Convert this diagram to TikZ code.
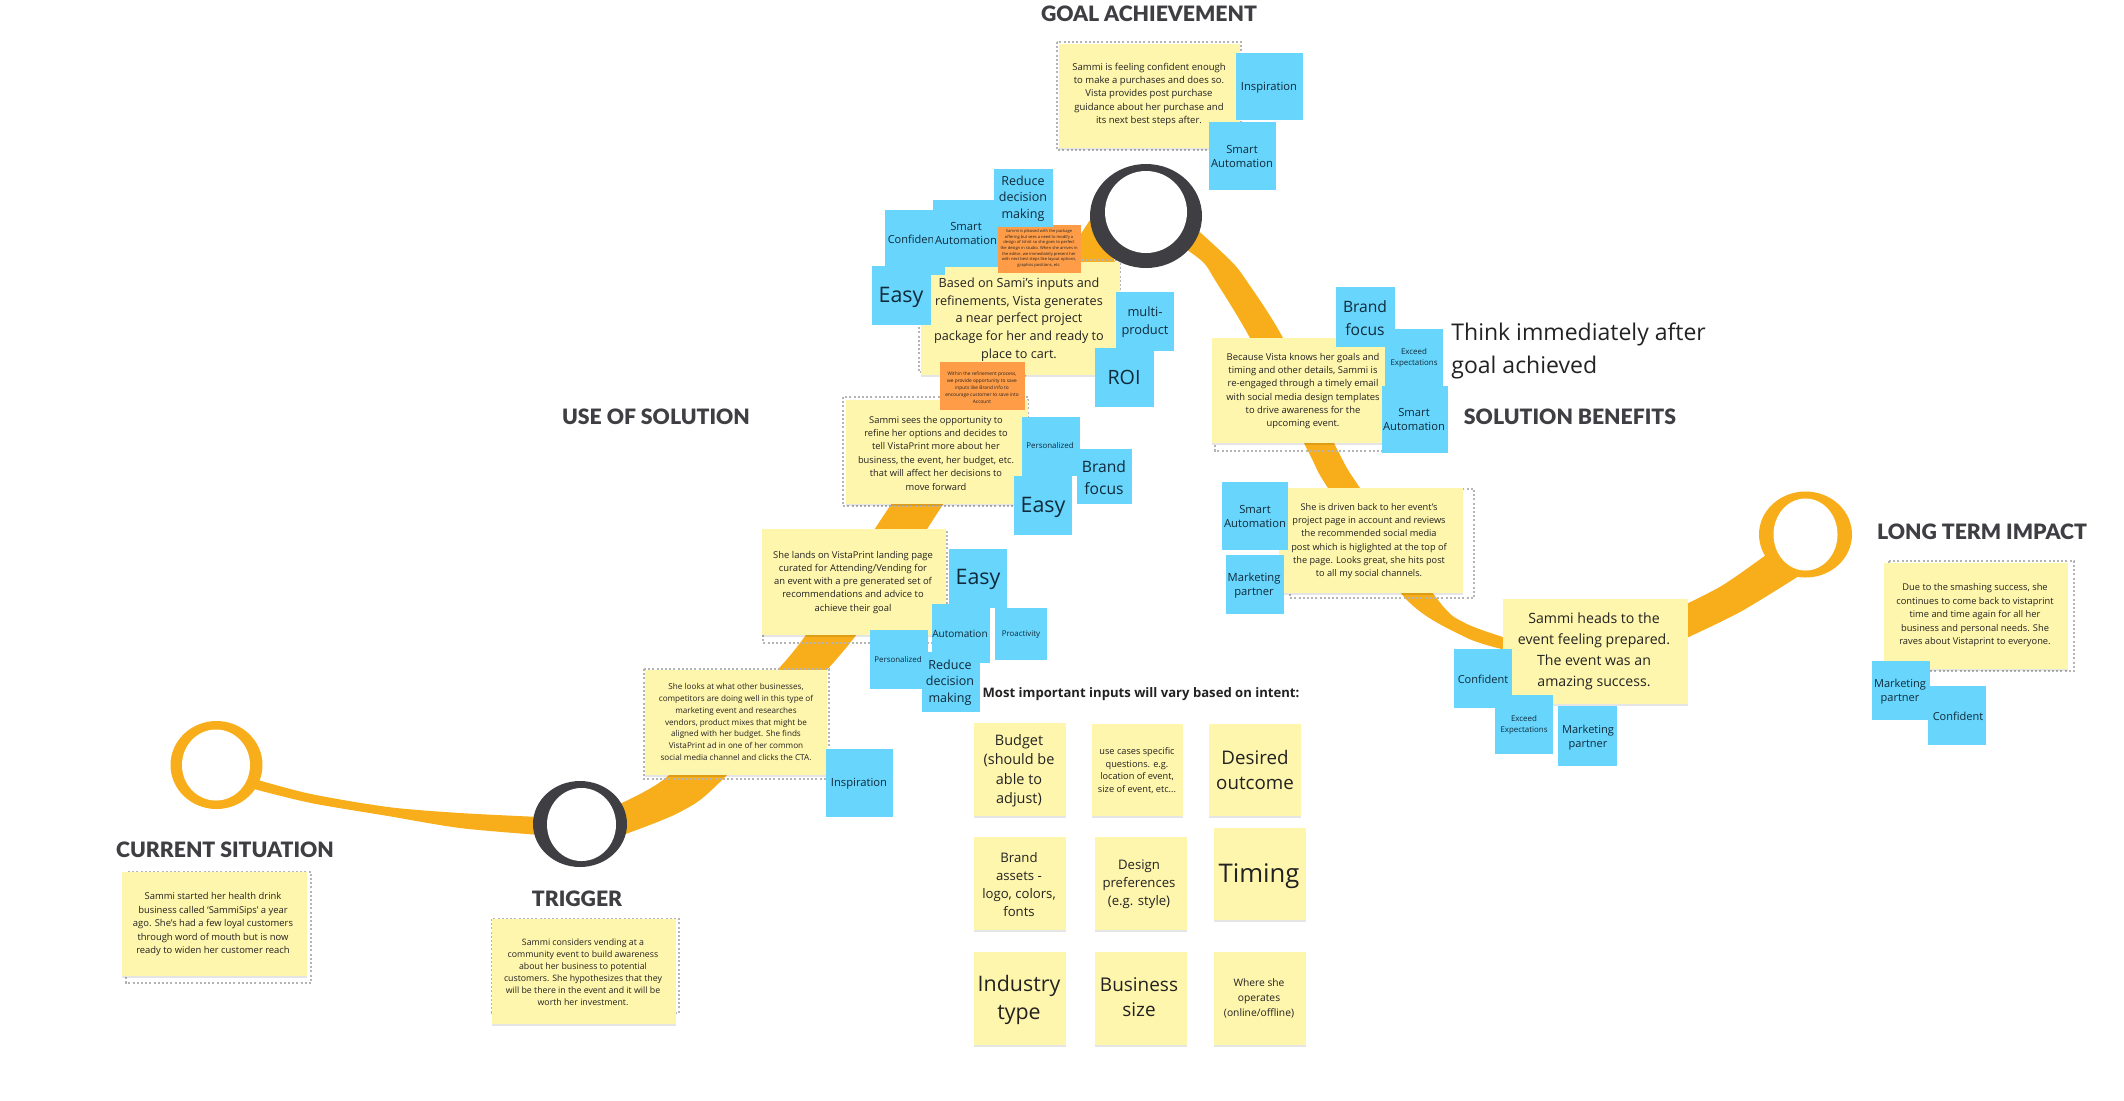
\documentclass[tikz,border=0pt]{standalone}
\usepackage{fontspec}
\setmainfont{Open Sans}
\newfontfamily\headfont[BoldFont={Lato Black}]{Lato}
\usetikzlibrary{shadows}
\definecolor{stblue}{HTML}{68D5FC}
\definecolor{styellow}{HTML}{FFF6AD}
\definecolor{storange}{HTML}{FF9C47}
\definecolor{swoosh}{HTML}{F8AE1A}
\definecolor{ringdark}{HTML}{3F3E42}
\definecolor{framegrey}{HTML}{B4B4B4}
\definecolor{inktext}{HTML}{222222}
\definecolor{inkblue}{HTML}{0F2A3A}
\newcommand{\fs}[2]{\pgfmathsetmacro\fa{#1/2*1.07}\pgfmathsetmacro\fb{#2/2}\edef\curfont{\noexpand\fontsize{\fa}{\fb}\noexpand\selectfont}}
\newcommand{\sticky}[9]{%
  \pgfmathsetmacro\bw{(#5-#3)*0.5}\pgfmathsetmacro\bh{(#6-#4)*0.5}%
  \pgfmathsetmacro\cx{(#3+#5)/2}\pgfmathsetmacro\cy{(#4+#6)/2}%
  \pgfmathsetmacro\ty{#8+0.25*\fa}%
  \node[#2box,minimum width=\bw pt,minimum height=\bh pt] (#1) at (\cx,\cy) {};
  \node[#2text,font=\curfont] (#1-t) at (#7,\ty) {#9};
}
\tikzset{
  yelbox/.style={fill=styellow,inner sep=0pt,drop shadow={shadow xshift=0pt,shadow yshift=-0.8pt,opacity=.1,fill=black}},
  blubox/.style={fill=stblue,inner sep=0pt},
  orabox/.style={fill=storange,inner sep=0pt},
  yeltext/.style={align=center,inner sep=0pt,text=inktext},
  blutext/.style={align=center,inner sep=0pt,text=inkblue},
  oratext/.style={align=center,inner sep=0pt,text=inktext},
  headline/.style={inner sep=0pt,text=ringdark,font=\headfont\bfseries\fontsize{10.6}{13}\selectfont},
  dotframe/.style={draw=framegrey,line width=1pt,dash pattern=on 1pt off 1.1pt},
  ringgold/.style={fill=swoosh},
  ringgrey/.style={fill=ringdark},
  ringhole/.style={fill=white},
}
\begin{document}
\begin{tikzpicture}[x=0.5pt,y=-0.5pt]
\useasboundingbox (0,0) rectangle (2124,1100);
% swooshes
\fill[swoosh] plot[smooth] coordinates {(258,780) (311,794) (388,807) (460,813) (540,817)}
  -- plot[smooth] coordinates {(540,835) (460,828) (388,816) (311,803) (254,789)} -- cycle;
\fill[swoosh] plot[smooth] coordinates {(615,806) (663,780) (730,718) (800,643) (890,506) (1000,350) (1070,250) (1095,212)}
  -- plot[smooth] coordinates {(1115,262) (1050,340) (942,506) (850,643) (722,780) (680,812) (620,836)} -- cycle;
\fill[swoosh] plot[smooth,tension=0.5] coordinates {(1192,225) (1230,260) (1246,280) (1283,338) (1338,451) (1360,488) (1438,600) (1465,623) (1506,638)}
  -- plot[smooth,tension=0.5] coordinates {(1506,650) (1465,637) (1405,598) (1328,488) (1308,451) (1250,338) (1215,280) (1203,262) (1180,245)} -- cycle;
\fill[swoosh] plot[smooth] coordinates {(1680,607) (1723,585) (1770,552)}
  -- plot[smooth] coordinates {(1802,574) (1740,612) (1680,641)} -- cycle;
% rings
\fill[ringgold] (216.5,765) ellipse [x radius=46,y radius=44];
\fill[ringhole] (216,765) ellipse [x radius=34,y radius=35.5];
\fill[ringgrey] (580,824) ellipse [x radius=47,y radius=43];
\fill[ringhole] (581.5,824.5) ellipse [x radius=34.5,y radius=36.5];
\fill[ringgold] (1805.5,534.5) ellipse [x radius=46.5,y radius=43];
\fill[ringhole] (1805.5,534.5) ellipse [x radius=32,y radius=36];
% headings
\node[headline] (hgoal) at (1149,14) {GOAL ACHIEVEMENT};
\node[headline] (huse) at (656,417) {USE OF SOLUTION};
\node[headline] (hben) at (1570,417) {SOLUTION BENEFITS};
\node[headline] (hlong) at (1982,532) {LONG TERM IMPACT};
\node[headline] (hcur) at (225,850) {CURRENT SITUATION};
\node[headline] (htrig) at (577,899) {TRIGGER};
\node[inner sep=0pt,align=left,anchor=west,text=inktext,font=\fontsize{11.5}{16.5}\selectfont] (think) at (1451,351) {Think immediately after\\goal achieved};
\node[inner sep=0pt,text=inktext,font=\bfseries\fontsize{6.55}{7}\selectfont] (most) at (1141,694) {Most important inputs will vary based on intent:};
% current + trigger
\draw[dotframe] (126,872) rectangle (311,983);
\fs{8.8}{13.4}
\sticky{current}{yel}{122}{872}{307}{976}{213}{923}{Sammi started her health drink\\business called ‘SammiSips’ a year\\ago. She’s had a few loyal customers\\through word of mouth but is now\\ready to widen her customer reach}
\draw[dotframe] (492,919) rectangle (679,1013);
\fs{8.2}{11.9}
\sticky{trigger}{yel}{492}{919}{676}{1024}{583}{971}{Sammi considers vending at a\\community event to build awareness\\about her business to potential\\customers. She hypothesizes that they\\will be there in the event and it will be\\worth her investment.}
% looks
\draw[dotframe] (644,669) rectangle (829,779);
\fs{7.6}{11.7}
\sticky{looks}{yel}{645}{670}{827}{775}{736}{721}{She looks at what other businesses,\\competitors are doing well in this type of\\marketing event and researches\\vendors, product mixes that might be\\aligned with her budget. She finds\\VistaPrint ad in one of her common\\social media channel and clicks the CTA.}
\fs{10.5}{14}
\sticky{insp1}{blu}{826}{749}{893}{817}{859}{782}{Inspiration}
% lands
\draw[dotframe] (763,530) rectangle (947,643);
\fs{8.8}{13.3}
\sticky{lands}{yel}{762}{529}{946}{635}{853}{581}{She lands on VistaPrint landing page\\curated for Attending/Vending for\\an event with a pre generated set of\\recommendations and advice to\\achieve their goal}
\fs{20}{24}
\sticky{easy3}{blu}{949}{549}{1007}{608}{978}{577}{Easy}
\fs{9.4}{12}
\sticky{auto}{blu}{932}{604}{990}{663}{960}{633}{Automation}
\fs{7.4}{10}
\sticky{proact}{blu}{995}{608}{1047}{660}{1021}{634}{Proactivity}
\sticky{pers2}{blu}{870}{630}{928}{689}{898}{659}{Personalized}
\fs{11.7}{16.7}
\sticky{reduce2}{blu}{922}{652}{980}{712}{950}{681}{Reduce\\decision\\making}
% sees
\draw[dotframe] (843,397) rectangle (1028,506);
\fs{8.7}{13.4}
\sticky{sees}{yel}{846}{400}{1028}{504}{936}{452}{Sammi sees the opportunity to\\refine her options and decides to\\tell VistaPrint more about her\\business, the event, her budget, etc.\\that will affect her decisions to\\move forward}
\fs{7.4}{10}
\sticky{pers1}{blu}{1022}{417}{1080}{476}{1050}{445}{Personalized}
\fs{14.6}{22}
\sticky{brand1}{blu}{1077}{449}{1132}{504}{1104}{476}{Brand\\focus}
\fs{20}{24}
\sticky{easy2}{blu}{1014}{476}{1072}{535}{1043}{505}{Easy}
% based on
\draw[dotframe] (919,260) rectangle (1120,372);
\fs{11.8}{17.6}
\sticky{based}{yel}{921}{262}{1120}{375}{1019}{318}{Based on Sami’s inputs and\\refinements, Vista generates\\a near perfect project\\package for her and ready to\\place to cart.}
\fs{4.5}{6.8}
\sticky{orange2}{ora}{940}{362}{1025}{410}{982}{387}{Within the refinement process,\\we provide opportunity to save\\inputs like Brand info to\\encourage customer to save into\\Account}
% goal ring above the note
\fill[ringgrey] (1146,216) ellipse [x radius=56,y radius=52];
\fill[ringhole] (1146,212) ellipse [x radius=41,y radius=41];
\fs{10.3}{14}
\sticky{conf1}{blu}{885}{210}{945}{275}{913}{238}{Confident}
\fs{10.5}{14.5}
\sticky{smart1}{blu}{933}{200}{999}{267}{966}{232}{Smart\\Automation}
\fs{3.8}{5.6}
\sticky{orange1}{ora}{998}{225}{1081}{273}{1039}{248}{Sammi is pleased with the package\\offering but sees a need to modify a\\design of tshirt so she goes to perfect\\the design in studio. When she arrives in\\the editor, we immediately present her\\with next best steps like layout options,\\graphics positions, etc.}
\fs{11.7}{16.7}
\sticky{reduce1}{blu}{994}{169}{1053}{227}{1023}{197}{Reduce\\decision\\making}
\fs{20}{24}
\sticky{easy1}{blu}{872}{266}{931}{325}{901}{295}{Easy}
\fs{12}{18}
\sticky{multi}{blu}{1116}{292}{1174}{351}{1145}{321}{multi-\\product}
\fs{18.4}{22}
\sticky{roi}{blu}{1095}{348}{1154}{407}{1124}{375}{ROI}
% goal note
\draw[dotframe] (1057,42) rectangle (1241,150);
\fs{8.9}{13.3}
\sticky{goal}{yel}{1059}{44}{1240}{148}{1149}{93}{Sammi is feeling confident enough\\to make a purchases and does so.\\Vista provides post purchase\\guidance about her purchase and\\its next best steps after.}
\fs{10.5}{14}
\sticky{insp2}{blu}{1236}{53}{1303}{120}{1269}{86}{Inspiration}
\sticky{smart2}{blu}{1209}{122}{1276}{190}{1242}{155}{Smart\\Automation}
% because
\draw[dotframe] (1215,340) rectangle (1390,451);
\fs{8.8}{13.3}
\sticky{because}{yel}{1212}{338}{1390}{443}{1303}{390}{Because Vista knows her goals and\\timing and other details, Sammi is\\re-engaged through a timely email\\with social media design templates\\to drive awareness for the\\upcoming event.}
\fs{14.6}{23}
\sticky{brand2}{blu}{1336}{287}{1395}{347}{1365}{316}{Brand\\focus}
\fs{7.4}{11}
\sticky{exceed1}{blu}{1385}{329}{1443}{390}{1414}{357}{Exceed\\Expectations}
\fs{10.5}{14}
\sticky{smart3}{blu}{1382}{386}{1448}{453}{1414}{418}{Smart\\Automation}
% driven
\draw[dotframe] (1290,489) rectangle (1474,598);
\fs{8.6}{13.2}
\sticky{driven}{yel}{1279}{488}{1463}{593}{1369}{540}{She is driven back to her event’s\\project page in account and reviews\\the recommended social media\\post which is higlighted at the top of\\the page.  Looks great, she hits post\\to all my social channels.}
\fs{10.5}{14}
\sticky{smart4}{blu}{1222}{482}{1288}{550}{1255}{515}{Smart\\Automation}
\sticky{market1}{blu}{1226}{555}{1284}{614}{1254}{584}{Marketing\\partner}
% heads
\fs{13.2}{21}
\sticky{heads}{yel}{1503}{599}{1688}{704}{1594}{650}{Sammi heads to the\\event feeling prepared.\\The event was an\\amazing success.}
\fs{10.3}{14}
\sticky{conf2}{blu}{1454}{649}{1512}{708}{1483}{678}{Confident}
\fs{7.4}{11}
\sticky{exceed2}{blu}{1495}{695}{1553}{754}{1524}{724}{Exceed\\Expectations}
\fs{10.3}{14}
\sticky{market2}{blu}{1558}{706}{1617}{766}{1588}{736}{Marketing\\partner}
% long term
\draw[dotframe] (1889,561) rectangle (2074,671);
\fs{8.7}{13.6}
\sticky{longt}{yel}{1884}{563}{2068}{669}{1975}{614}{Due to the smashing success, she\\continues to come back to vistaprint\\time and time again for all her\\business and personal needs. She\\raves about Vistaprint to everyone.}
\fs{10.3}{14}
\sticky{market3}{blu}{1872}{661}{1930}{720}{1900}{690}{Marketing\\partner}
\sticky{conf3}{blu}{1928}{686}{1986}{745}{1958}{715}{Confident}
% inputs grid
\fs{13.5}{19.3}
\sticky{budget}{yel}{974}{723}{1066}{816}{1019}{769}{Budget\\(should be\\able to\\adjust)}
\fs{8.6}{12.4}
\sticky{usecases}{yel}{1092}{724}{1183}{816}{1137}{769.5}{use cases specific\\questions. e.g.\\location of event,\\size of event, etc...}
\fs{17.5}{25}
\sticky{desired}{yel}{1209}{724}{1301}{816}{1255}{768}{Desired\\outcome}
\fs{12.3}{18}
\sticky{brandas}{yel}{974}{837}{1066}{930}{1019}{883}{Brand\\assets -\\logo, colors,\\fonts}
\sticky{design}{yel}{1095}{837}{1187}{930}{1139}{883}{Design\\preferences\\(e.g. style)}
\fs{24}{28}
\sticky{timing}{yel}{1214}{828}{1306}{920}{1259}{873}{Timing}
\fs{20}{28}
\sticky{industry}{yel}{974}{952}{1066}{1045}{1019}{997}{Industry\\type}
\fs{17.7}{25}
\sticky{business}{yel}{1095}{952}{1187}{1045}{1139}{995}{Business\\size}
\fs{9.6}{15}
\sticky{where}{yel}{1214}{952}{1306}{1045}{1259}{997}{Where she\\operates\\(online/offline)}
\end{tikzpicture}
\end{document}
